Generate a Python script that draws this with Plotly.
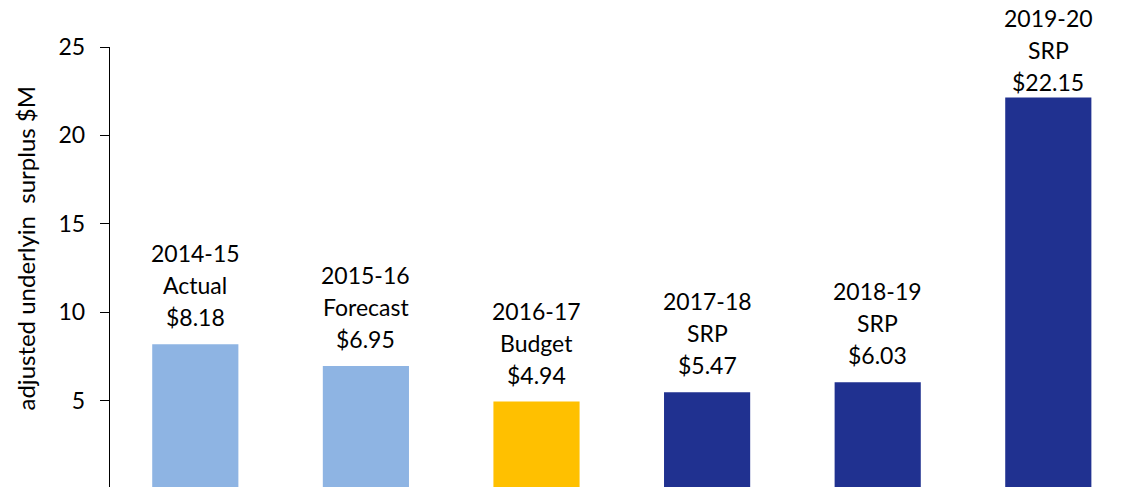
import plotly.graph_objects as go

years = ["2014-15", "2015-16", "2016-17", "2017-18", "2018-19", "2019-20"]
kinds = ["Actual", "Forecast", "Budget", "SRP", "SRP", "SRP"]
values = [8.18, 6.95, 4.94, 5.47, 6.03, 22.15]
colors = ["#8EB4E3", "#8EB4E3", "#FFC000", "#203190", "#203190", "#203190"]
ytick_vals = [5, 10, 15, 20, 25]
y_title = "adjusted underlyin  surplus $M"

FONT = "Lato"
W, H = 1130, 487
L, T = 110, 47
Y0, Y1 = 0.11, 25
PPU = (H - T) / (Y1 - Y0)  # pixels per unit
LINE = 32

xs = list(range(len(values)))
fig = go.Figure(go.Bar(x=xs, y=values, width=0.505, marker=dict(color=colors, line=dict(width=0)),
                       hoverinfo="skip"))

for x, yv, yr, k in zip(xs, values, years, kinds):
    bar_top_px = T + (Y1 - yv) * PPU
    s = min(27, bar_top_px - (18 + 2 * LINE))
    for i, line in enumerate([f"${yv:.2f}", k, yr]):
        fig.add_annotation(x=x, y=yv, text=line, showarrow=False,
                           yanchor="middle", yshift=s + i * LINE,
                           font=dict(family=FONT, size=23, color="#000"))

fig.add_annotation(xref="paper", yref="paper", x=(25 - L) / (W - L), y=(H - 248.5) / (H - T),
                   text=y_title, textangle=-90, showarrow=False, xanchor="center", yanchor="middle",
                   font=dict(family=FONT, size=24, color="#000"))

fig.update_layout(
    width=W, height=H, margin=dict(l=L, r=0, t=T, b=0, pad=0),
    plot_bgcolor="white", paper_bgcolor="white", showlegend=False,
    xaxis=dict(range=[-0.5, -0.5 + (W - L) / 170.6], visible=False, showgrid=False, zeroline=False),
    yaxis=dict(range=[Y0, Y1], tickvals=ytick_vals, showgrid=False, zeroline=False,
               showline=True, linecolor="black", linewidth=1.3, ticks="outside", ticklen=9,
               tickcolor="black", tickfont=dict(family=FONT, size=23, color="#000"), ticklabelstandoff=10),
)
fig.write_html("out.html", config={"displayModeBar": False, "staticPlot": True},
               post_script="document.body.style.margin='0';document.body.style.overflow='hidden';")
